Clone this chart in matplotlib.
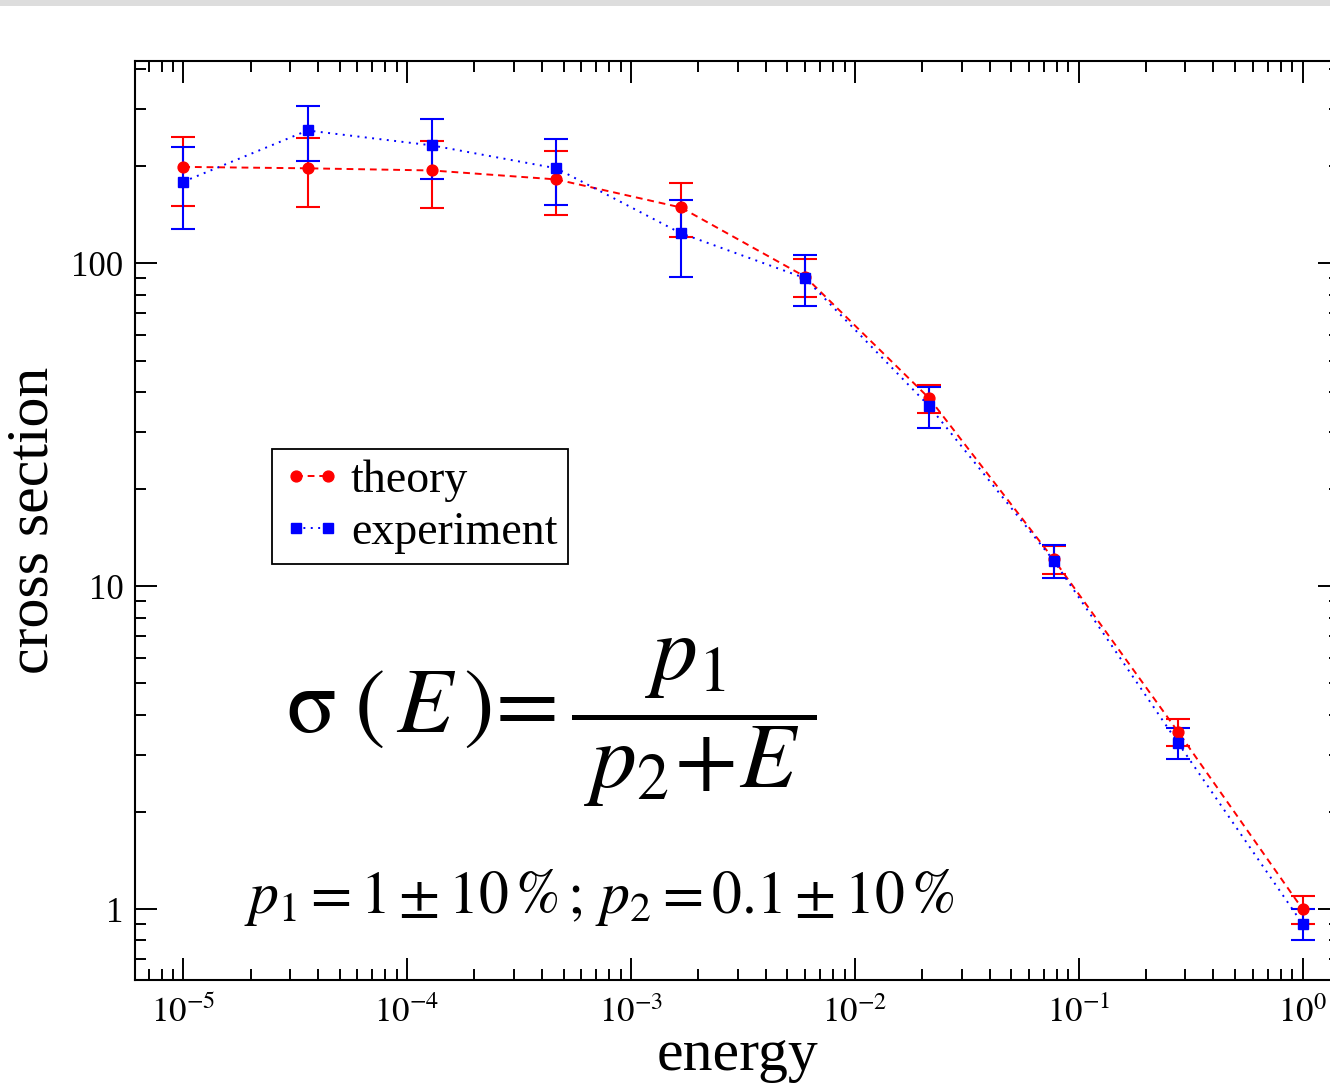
import numpy as np
import matplotlib
matplotlib.use('Agg')
import matplotlib.pyplot as plt
from matplotlib.patches import Rectangle
from matplotlib.lines import Line2D
from matplotlib.ticker import FuncFormatter, NullFormatter, LogLocator

# values
energy = [1.0e-5, 3.59e-5, 1.29e-4, 4.64e-4, 1.67e-3, 5.99e-3, 2.15e-2, 7.74e-2, 0.278, 1.0]
theory = [199, 197, 194, 182, 149, 91, 38.2, 12.1, 3.54, 1.0]
theory_err = [48, 48, 46, 41, 28, 12.5, 3.9, 1.2, 0.35, 0.1]
experiment = [179, 258, 232, 197, 124, 90, 36.1, 12.0, 3.27, 0.9]
experiment_err = [51, 50, 49, 45, 33, 16, 5.2, 1.4, 0.36, 0.1]

plt.rcParams['font.family'] = ['Liberation Serif', 'DejaVu Serif']
plt.rcParams['mathtext.fontset'] = 'stix'

W, H = 1330, 1087
fig = plt.figure(figsize=(W / 100, H / 100), dpi=100)
fig.add_artist(Rectangle((0, 1 - 6 / H), 1, 6 / H, transform=fig.transFigure,
                         facecolor='#dddddd', edgecolor='none'))

ax = fig.add_axes([134.7 / W, (H - 980) / H, (1340 - 134.7) / W, (980 - 60.5) / H])

red_ls = (0, (3.5, 2.5))
blue_ls = (0, (1, 2.8))
ax.errorbar(energy, theory, yerr=theory_err, color='red', marker='o', markersize=7.8,
            linestyle=red_ls, linewidth=1.4, elinewidth=1.5, capsize=8.3, capthick=1.5)
ax.errorbar(energy, experiment, yerr=experiment_err, color='blue', marker='s', markersize=7.8,
            linestyle=blue_ls, linewidth=1.4, elinewidth=1.5, capsize=8.3, capthick=1.5)

ax.set_xscale('log')
ax.set_yscale('log')
ax.set_xlim(6.07e-6, 1.47)
ax.set_ylim(0.603, 425)

ax.xaxis.set_major_locator(LogLocator(base=10, numticks=20))
ax.xaxis.set_minor_locator(LogLocator(base=10, subs=np.arange(2, 10), numticks=20))
ax.xaxis.set_major_formatter(FuncFormatter(lambda v, p: r'$10^{%d}$' % int(round(np.log10(v)))))
ax.xaxis.set_minor_formatter(NullFormatter())
ax.yaxis.set_major_formatter(FuncFormatter(lambda v, p: '%g' % v))
ax.yaxis.set_minor_formatter(NullFormatter())

ax.tick_params(which='both', direction='in', top=True, right=True, width=1.4, color='black')
ax.tick_params(which='major', length=15.8, labelsize=25)
ax.tick_params(which='minor', length=7.9)
ax.tick_params(axis='x', which='major', pad=12)
ax.tick_params(axis='y', which='major', pad=8)
for s in ax.spines.values():
    s.set_linewidth(1.5)

ax.set_xlabel('energy', fontsize=43, labelpad=-1)
ax.set_ylabel('cross section', fontsize=43, labelpad=8)

handles = [Line2D([], [], color='red', marker='o', markersize=7.8, linestyle=red_ls, linewidth=1.4),
           Line2D([], [], color='blue', marker='s', markersize=7.8, linestyle=blue_ls, linewidth=1.4)]
leg = ax.legend(handles, ['theory', 'experiment'], loc='upper left', numpoints=2,
                bbox_to_anchor=(0.114, 0.5775), borderaxespad=0,
                fontsize=33, handlelength=1.3, handletextpad=0.2, labelspacing=0.22,
                borderpad=0.22, fancybox=False, framealpha=1, edgecolor='black')
leg.get_frame().set_linewidth(1.3)

ax.text(551, H - 723,
        r'$\mathrm{\sigma}\;\left(\,E\,\right)\!=\dfrac{p_1}{\;p_2\!+\!E\;}$',
        transform=None, fontsize=66, ha='center', va='center')
ax.text(599, H - 898, r'$p_1=1\pm10\,\%\,;\,p_2=0.1\pm10\,\%$', transform=None,
        fontsize=43, ha='center', va='center')

fig.savefig('out.png', dpi=100)
